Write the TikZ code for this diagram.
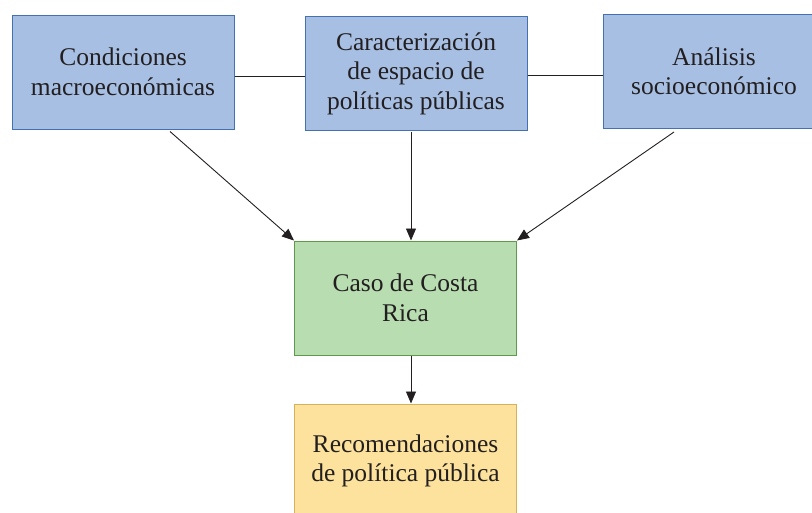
\documentclass[tikz,border=0pt]{standalone}
\usepackage{fontspec}
\setmainfont{Liberation Serif}
\usetikzlibrary{arrows.meta}
\definecolor{bluefill}{HTML}{A6BFE3}
\definecolor{blueline}{HTML}{4471B0}
\definecolor{greenfill}{HTML}{B8DDB1}
\definecolor{greenline}{HTML}{5E9A4A}
\definecolor{yellowfill}{HTML}{FCE29C}
\definecolor{yellowline}{HTML}{D4B25A}
\definecolor{ink}{HTML}{231F20}
\begin{document}
\begin{tikzpicture}[x=1pt,y=-1pt,
    box/.style={draw,line width=1pt,minimum width=222pt,minimum height=114pt,
        inner sep=0pt,align=center,text=ink,font=\fontsize{25.5}{29.5}\selectfont},
    bluebox/.style={box,fill=bluefill,draw=blueline},
    arr/.style={-{Triangle[length=12pt,width=10pt]},line width=0.9pt,draw=ink}]
    \useasboundingbox (0,0) rectangle (812,512);

    \node[bluebox] (cond) at (123,72) {Condiciones\\macroeconómicas};
    \node[bluebox] (carac) at (416,73.5) {Caracterización\\de espacio de\\políticas públicas};
    \node[bluebox] (anal) at (714,71.5) {Análisis\\socioeconómico};
    \node[box,fill=greenfill,draw=greenline] (caso) at (405.5,298) {Caso de Costa\\Rica};
    \node[box,fill=yellowfill,draw=yellowline] (recom) at (405.5,461) {Recomendaciones\\de política pública};

    \draw[line width=0.9pt,ink] (cond.east |- 0,76) -- (carac.west |- 0,76);
    \draw[line width=0.9pt,ink] (carac.east |- 0,75) -- (anal.west |- 0,75);

    \draw[arr] ([xshift=47pt,yshift=-2pt]cond.south) -- (caso.north west);
    \draw[arr] ([xshift=-5pt,yshift=-1pt]carac.south) -- ([xshift=5.5pt]caso.north);
    \draw[arr] ([xshift=-40pt,yshift=-3pt]anal.south) -- (caso.north east);
    \draw[arr] ([xshift=5.5pt]caso.south) -- ([xshift=5.5pt]recom.north);
\end{tikzpicture}
\end{document}
